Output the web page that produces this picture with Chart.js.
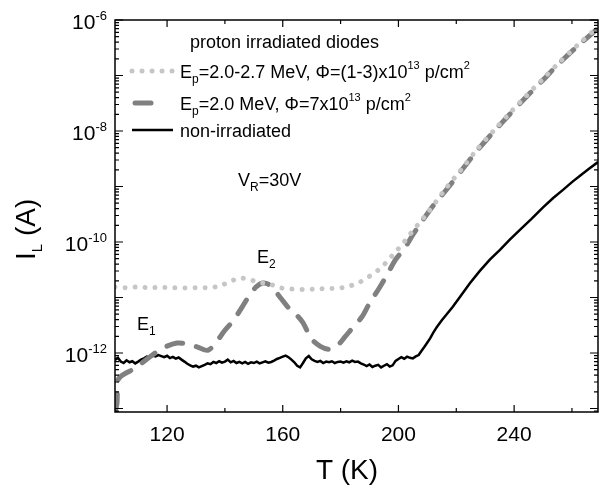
<!DOCTYPE html>
<html><head><meta charset="utf-8">
<script src="https://cdn.jsdelivr.net/npm/chart.js@4/dist/chart.umd.min.js"></script>
<style>html,body{margin:0;padding:0;background:#fff}canvas{display:block}</style>
</head><body>
<canvas id="c" width="600" height="486"></canvas>
<script>
// ---- data ----
const xMajorTicks = [120, 160, 200, 240];
const xMinorTicks = [140, 180, 220, 260];
const yLabelExps = [-6, -8, -10, -12];

// proton irradiated, Ep=2.0-2.7 MeV, (1-3)e13 p/cm2 (dotted)
const dotT = [102,106,110,114,118,122,126,130,134,138,141.7,145.2,148.7,152,155.6,159,163,167,171,176,179,182.6,186.4,189.9,193.4,196.1,198.8,201.7,204,206.4,210,216.8,222,227.1,233,238.5,244,250,255.1,262,268.6,269];
const dotI = [1.55e-11,1.5e-11,1.55e-11,1.5e-11,1.52e-11,1.5e-11,1.48e-11,1.5e-11,1.5e-11,1.6e-11,1.93e-11,2.24e-11,2.08e-11,1.86e-11,1.74e-11,1.5e-11,1.42e-11,1.4e-11,1.42e-11,1.45e-11,1.47e-11,1.58e-11,1.86e-11,2.4e-11,3.24e-11,4.47e-11,6.46e-11,9.55e-11,1.38e-10,1.95e-10,3.3e-10,9.8e-10,2.1e-9,4.6e-9,1.02e-8,2.1e-8,4.2e-8,8.7e-8,1.62e-7,3.55e-7,7.2e-7,7.4e-7];

// Ep=2.0 MeV, 7e13 p/cm2 (dashed)
const dashT = [102.2,102.7,103,104,106,108,111.3,114,118.6,123.4,127,130.3,134.1,137,140,143,146,149,151,153,155,157,159.5,162,165,167,170,173,176,179,181.5,184,187.4,190,193.6,196.4,199,202.2,205,208,212,217,222,227,233,238.5,244,250,255,262,269];
const dashI = [9.5e-14,1.26e-13,3.2e-13,3.8e-13,4.4e-13,5e-13,6.6e-13,8.5e-13,1.23e-12,1.51e-12,1.45e-12,1.29e-12,1.12e-12,1.58e-12,2.57e-12,3.9e-12,6.8e-12,1.2e-11,1.58e-11,1.82e-11,1.74e-11,1.38e-11,9.5e-12,6.5e-12,4.7e-12,3.5e-12,1.78e-12,1.32e-12,1.17e-12,1.38e-12,1.95e-12,2.8e-12,4.5e-12,7.9e-12,1.55e-11,2.75e-11,4.8e-11,7.8e-11,1.35e-10,2.3e-10,4.5e-10,9.3e-10,2e-9,4.3e-9,9.8e-9,2e-8,4e-8,8.3e-8,1.55e-7,3.4e-7,7.1e-7];

// non-irradiated (solid)
const blackT = [102,103,104,105,106,107,108,109,110,111,112,113,114,115,116,117,118,119,120,121,122,123,124,125,126,127,128,129,130,131,132,133,134,135,136,137,138,139,140,141,142,143,144,145,146,147,148,149,150,151,152,153,154,155,156,157,158,159,160,161,162,163,164,165,166,167,168,169,170,171,172,173,174,175,176,177,178,179,180,181,182,183,184,185,186,187,188,189,190,191,192,193,194,195,196,197,198,199,200,201,202,203,204,205,206,207,208,209,210,211,212,213.3,215,218.8,221,224.7,228,231.6,235.1,238.5,242,246,250,253.5,256.9,260,263,266,269];
const blackI = [7.5e-13,8.2e-13,7.0e-13,6.6e-13,7.4e-13,6.8e-13,7.1e-13,6.5e-13,7.0e-13,7.6e-13,8.0e-13,8.6e-13,8.3e-13,9.0e-13,8.7e-13,9.2e-13,8.8e-13,8.4e-13,8.9e-13,8.1e-13,8.5e-13,7.9e-13,8.3e-13,7.6e-13,7.0e-13,6.4e-13,6.0e-13,5.7e-13,5.9e-13,5.5e-13,5.8e-13,6.1e-13,6.5e-13,6.3e-13,6.9e-13,6.6e-13,7.1e-13,6.7e-13,7.0e-13,7.6e-13,6.8e-13,7.2e-13,6.6e-13,6.9e-13,6.5e-13,6.9e-13,6.4e-13,6.8e-13,6.6e-13,7.0e-13,6.5e-13,6.8e-13,7.1e-13,6.7e-13,6.9e-13,7.3e-13,7.8e-13,8.2e-13,8.6e-13,9.0e-13,8.4e-13,7.6e-13,6.8e-13,5.9e-13,5.5e-13,6.6e-13,8.0e-13,8.8e-13,7.7e-13,7.2e-13,6.9e-13,7.2e-13,6.6e-13,7.0e-13,6.8e-13,7.1e-13,6.6e-13,6.9e-13,7.0e-13,6.7e-13,7.1e-13,6.8e-13,7.3e-13,6.9e-13,7.0e-13,6.5e-13,6.2e-13,5.8e-13,6.2e-13,5.6e-13,5.9e-13,6.1e-13,5.5e-13,5.9e-13,6.3e-13,5.7e-13,6.0e-13,7.2e-13,7.8e-13,8.4e-13,7.9e-13,8.6e-13,8.2e-13,8.0e-13,8.7e-13,9.2e-13,1.1e-12,1.3e-12,1.55e-12,1.85e-12,2.3e-12,2.95e-12,3.9e-12,6.8e-12,9.8e-12,1.8e-11,2.95e-11,4.8e-11,7.2e-11,1.1e-10,1.66e-10,2.6e-10,4.2e-10,6.2e-10,8.7e-10,1.2e-9,1.6e-9,2.1e-9,2.75e-9];

// legend / annotation text runs: [text, size, dy]
const legendTitle = 'proton irradiated diodes';
const legendRows = [
  [['E',18,0],['p',12,5],['=2.0-2.7 MeV, \u03A6=(1-3)x10',18,0],['13',11,-9],[' p/cm',18,0],['2',11,-9]],
  [['E',18,0],['p',12,5],['=2.0 MeV, \u03A6=7x10',18,0],['13',11,-9],[' p/cm',18,0],['2',11,-9]],
  [['non-irradiated',18,0]]
];
const vrText = [['V',18,0],['R',12,5],['=30V',18,0]];
const e1Text = [['E',18,0],['1',12,5]];
const e2Text = [['E',18,0],['2',12,5]];
const yTitle = [['I',28,0],['L',15,7],[' (A)',28,0]];
const xTitle = 'T (K)';

const FONT = '"Liberation Sans", Arial, sans-serif';
function runs(ctx, x, y, parts) {
  ctx.textAlign = 'left'; ctx.textBaseline = 'alphabetic';
  let cx = x;
  for (const [t, s, dy] of parts) {
    ctx.font = s + 'px ' + FONT;
    ctx.fillText(t, cx, y + dy);
    cx += ctx.measureText(t).width;
  }
  return cx;
}

const frame = {
  id: 'frame',
  afterDraw(chart) {
    const ctx = chart.ctx, a = chart.chartArea;
    const xs = chart.scales.x, ys = chart.scales.y;
    ctx.save();
    ctx.strokeStyle = '#000'; ctx.fillStyle = '#000';
    ctx.lineWidth = 1.5;
    ctx.strokeRect(a.left, a.top, a.right - a.left, a.bottom - a.top);
    ctx.lineWidth = 1.2;
    ctx.beginPath();
    for (const v of xMajorTicks) { const p = xs.getPixelForValue(v);
      ctx.moveTo(p, a.bottom); ctx.lineTo(p, a.bottom - 7); ctx.moveTo(p, a.top); ctx.lineTo(p, a.top + 7); }
    for (const v of xMinorTicks) { const p = xs.getPixelForValue(v);
      ctx.moveTo(p, a.bottom); ctx.lineTo(p, a.bottom - 4); ctx.moveTo(p, a.top); ctx.lineTo(p, a.top + 4); }
    for (let e = -14; e <= -6; e++) {
      for (let k = 1; k <= 9; k++) {
        const v = k * Math.pow(10, e);
        if (v < ys.min * 0.999 || v > ys.max * 1.001) continue;
        const p = ys.getPixelForValue(v), L = k === 1 ? 8 : 4;
        ctx.moveTo(a.left, p); ctx.lineTo(a.left + L, p);
        ctx.moveTo(a.right, p); ctx.lineTo(a.right - L, p);
      }
    }
    ctx.stroke();
    // x tick labels
    ctx.font = '21px ' + FONT; ctx.textAlign = 'center'; ctx.textBaseline = 'alphabetic';
    for (const v of xMajorTicks) ctx.fillText(String(v), xs.getPixelForValue(v), 441);
    // y tick labels
    for (const e of yLabelExps) {
      const p = ys.getPixelForValue(Math.pow(10, e));
      ctx.font = '13px ' + FONT; const sup = String(e); const sw = ctx.measureText(sup).width;
      ctx.font = '21px ' + FONT; const bw = ctx.measureText('10').width;
      const right = 107;
      ctx.textAlign = 'left';
      ctx.fillText('10', right - sw - bw, p + 9);
      ctx.font = '13px ' + FONT;
      ctx.fillText(sup, right - sw, p);
    }
    // axis titles
    ctx.font = '28px ' + FONT; ctx.textAlign = 'center';
    ctx.fillText(xTitle, 347, 479);
    ctx.save(); ctx.translate(35, 260); ctx.rotate(-Math.PI / 2);
    runs(ctx, 0, 0, yTitle); ctx.restore();
    // legend
    ctx.font = '18px ' + FONT; ctx.textAlign = 'left';
    ctx.fillText(legendTitle, 190, 48);
    const rowY = [78, 110, 137];
    const sampleY = [71, 103, 130];
    chart.data.datasets.forEach((ds, i) => {
      ctx.save();
      ctx.strokeStyle = ds.borderColor; ctx.lineWidth = ds.borderWidth;
      ctx.lineCap = ds.borderCapStyle || 'butt';
      ctx.setLineDash(ds.borderDash || []);
      ctx.beginPath();
      const x1 = i === 1 ? 135 : 132, x2 = i === 1 ? 151 : 173;
      ctx.moveTo(x1, sampleY[i]); ctx.lineTo(x2, sampleY[i]); ctx.stroke();
      ctx.restore();
      runs(ctx, 180, rowY[i], legendRows[i]);
    });
    runs(ctx, 238, 186, vrText);
    runs(ctx, 137, 330, e1Text);
    runs(ctx, 257, 263, e2Text);
    ctx.restore();
  }
};

const pts = (T, I) => T.map((t, i) => ({ x: t, y: I[i] }));

new Chart(document.getElementById('c').getContext('2d'), {
  type: 'line',
  data: {
    datasets: [
      { label: 'Ep=2.0-2.7 MeV', data: pts(dotT, dotI), borderColor: '#c6c6c6', borderWidth: 5,
        borderDash: [0.01, 10], borderCapStyle: 'round', pointRadius: 0, tension: 0.3, fill: false },
      { label: 'Ep=2.0 MeV', data: pts(dashT, dashI), borderColor: '#808080', borderWidth: 5,
        borderDash: [16, 14], borderCapStyle: 'round', pointRadius: 0, tension: 0.3, fill: false },
      { label: 'non-irradiated', data: pts(blackT, blackI), borderColor: '#000', borderWidth: 2.5,
        pointRadius: 0, tension: 0, fill: false }
    ]
  },
  options: {
    responsive: false, animation: false, devicePixelRatio: 1,
    layout: { padding: { left: 115, top: 20, right: 2, bottom: 74 } },
    plugins: { legend: { display: false }, tooltip: { enabled: false } },
    scales: {
      x: { type: 'linear', min: 102, max: 269, ticks: { display: false }, grid: { display: false },
           border: { display: false }, afterFit: s => { s.height = 0; } },
      y: { type: 'logarithmic', min: 8.65e-14, max: 1e-6, ticks: { display: false }, grid: { display: false },
           border: { display: false }, afterFit: s => { s.width = 0; } }
    }
  },
  plugins: [frame]
});
</script>
</body></html>
